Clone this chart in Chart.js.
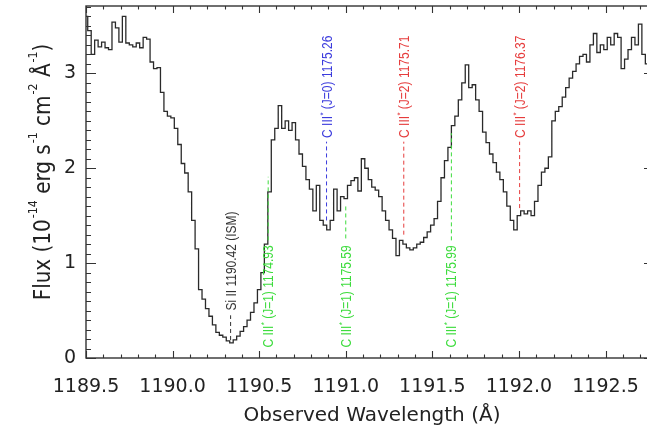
<!DOCTYPE html>
<html><head><meta charset="utf-8">
<script src="https://cdn.jsdelivr.net/npm/chart.js@4.4.0/dist/chart.umd.min.js"></script>
<style>html,body{margin:0;padding:0;overflow:hidden;background:#fff}#wrap{position:relative;width:662px;height:426px}</style>
</head><body><div id="wrap"><canvas id="c" width="662" height="426"></canvas></div>
<script>
// ---- data ----
const waveStart = 1189.50;   // first bin centre (Å)
const waveStep = 0.02;       // bin width (Å)
const flux = [
  3.6, 3.45, 3.2, 3.35, 3.28, 3.33, 3.27, 3.25, 3.54, 3.48,
  3.33, 3.6, 3.32, 3.3, 3.28, 3.32, 3.27, 3.38, 3.36, 3.12,
  3.05, 3.06, 2.8, 2.6, 2.55, 2.53, 2.42, 2.25, 2.05, 1.95,
  1.75, 1.45, 1.15, 0.72, 0.62, 0.52, 0.44, 0.35, 0.27, 0.24,
  0.22, 0.18, 0.16, 0.19, 0.23, 0.28, 0.33, 0.4, 0.48, 0.58,
  0.72, 0.9, 1.2, 1.75, 2.3, 2.42, 2.66, 2.42, 2.5, 2.4,
  2.48, 2.3, 2.15, 2.02, 1.88, 1.78, 1.55, 1.82, 1.45, 1.4,
  1.35, 1.45, 1.78, 1.55, 1.7, 1.68, 1.82, 1.87, 1.9, 1.76,
  2.1, 2.0, 1.88, 1.8, 1.77, 1.7, 1.55, 1.45, 1.35, 1.26,
  1.08, 1.24, 1.2, 1.16, 1.14, 1.16, 1.2, 1.22, 1.27, 1.33,
  1.4, 1.47, 1.65, 1.9, 2.08, 2.22, 2.45, 2.55, 2.72, 2.9,
  3.09, 2.85, 2.88, 2.72, 2.6, 2.38, 2.27, 2.15, 2.06, 1.96,
  1.88, 1.75, 1.6, 1.45, 1.35, 1.5, 1.55, 1.52, 1.55, 1.5,
  1.65, 1.82, 1.96, 2.0, 2.12, 2.5, 2.6, 2.65, 2.75, 2.85,
  2.95, 3.02, 3.1, 3.18, 3.2, 3.12, 3.3, 3.42, 3.22, 3.3,
  3.25, 3.38, 3.3, 3.42, 3.38, 3.05, 3.15, 3.25, 3.38, 3.3,
  3.52, 3.2, 3.1, 3.15, 3.2
];
const wavelength = flux.map((_, i) => +(waveStart + waveStep * i).toFixed(2));

const xTickValues = [1189.5, 1190.0, 1190.5, 1191.0, 1191.5, 1192.0, 1192.5];
const xTickLabels = ['1189.5', '1190.0', '1190.5', '1191.0', '1191.5', '1192.0', '1192.5'];
const yTickValues = [0, 1, 2, 3];
const yTickLabels = ['0', '1', '2', '3'];

// line identifications
const lineWave   = [1190.335, 1190.552, 1190.889, 1191.0, 1191.335, 1191.61, 1192.004];
const lineMain   = ['Si II 1190.42 (ISM)', 'C III', 'C III', 'C III', 'C III', 'C III', 'C III'];
const lineSup    = ['', '*', '*', '*', '*', '*', '*'];
const lineRest   = ['', ' (J=1) 1174.93', ' (J=0) 1175.26', ' (J=1) 1175.59', ' (J=2) 1175.71', ' (J=1) 1175.99', ' (J=2) 1176.37'];
const lineDashLo = [0.19, 1.24, 1.45, 1.26, 1.30, 1.24, 1.58];
const lineDashHi = [0.45, 1.91, 2.28, 1.61, 2.28, 2.37, 2.28];
const lineTextAt = [0.50, 0.11, 2.32, 0.11, 2.32, 0.11, 2.32];

// ---- styles ----
const lineColors = ['#333333', '#3ddc3d', '#3b3bdd', '#3ddc3d', '#e63c3c', '#3ddc3d', '#e63c3c'];
const AX = '#333333';
const FONT = "'DejaVu Sans', sans-serif";
const AFONT = "'Liberation Sans', Arial, sans-serif";

const idlPlugin = {
  id: 'idl',
  afterDraw(chart) {
    const ctx = chart.ctx, a = chart.chartArea;
    const xs = chart.scales.x, ys = chart.scales.y;
    ctx.save();
    // box
    ctx.strokeStyle = AX; ctx.lineWidth = 1.4; ctx.setLineDash([]);
    ctx.strokeRect(a.left, a.top, a.right - a.left, a.bottom - a.top);
    // x ticks
    ctx.lineWidth = 1.1;
    for (let k = 0; k <= 33; k++) {
      const v = 1189.5 + k * 0.1;
      if (v > xs.max + 1e-9) break;
      const major = k % 5 === 0;
      const L = major ? 7 : 3.5;
      const px = Math.round(xs.getPixelForValue(v)) + 0.5;
      ctx.beginPath();
      ctx.moveTo(px, a.bottom); ctx.lineTo(px, a.bottom - L);
      ctx.moveTo(px, a.top); ctx.lineTo(px, a.top + L);
      ctx.stroke();
    }
    // y ticks
    for (let k = 0; k <= 37; k++) {
      const v = k * 0.1;
      if (v > ys.max + 1e-9) break;
      const major = k % 10 === 0;
      const L = major ? 10 : 5;
      const py = Math.round(ys.getPixelForValue(v)) + 0.5;
      ctx.beginPath();
      ctx.moveTo(a.left, py); ctx.lineTo(a.left + L, py);
      ctx.moveTo(a.right, py); ctx.lineTo(a.right - L, py);
      ctx.stroke();
    }
    // line identifications
    for (let i = 0; i < lineWave.length; i++) {
      const px = xs.getPixelForValue(lineWave[i]);
      ctx.strokeStyle = lineColors[i]; ctx.fillStyle = lineColors[i];
      ctx.lineWidth = 1; ctx.setLineDash([4, 3]);
      ctx.beginPath();
      ctx.moveTo(px, ys.getPixelForValue(lineDashLo[i]));
      ctx.lineTo(px, ys.getPixelForValue(lineDashHi[i]));
      ctx.stroke();
      ctx.setLineDash([]);
      ctx.save();
      ctx.translate(px + 5, ys.getPixelForValue(lineTextAt[i]));
      ctx.rotate(-Math.PI / 2);
      ctx.scale(1, 1.2);
      ctx.textBaseline = 'alphabetic'; ctx.textAlign = 'left';
      ctx.font = '12px ' + AFONT;
      let tx = 0;
      ctx.fillText(lineMain[i], tx, 0); tx += ctx.measureText(lineMain[i]).width;
      if (lineSup[i]) {
        ctx.font = '8px ' + AFONT;
        ctx.fillText(lineSup[i], tx + 0.3, -5); tx += ctx.measureText(lineSup[i]).width + 0.3;
        ctx.font = '12px ' + AFONT;
        ctx.fillText(lineRest[i], tx, 0);
      }
      ctx.restore();
    }
    // x title
    ctx.fillStyle = '#222';
    ctx.font = '20px ' + FONT;
    ctx.textAlign = 'center'; ctx.textBaseline = 'alphabetic';
    ctx.fillText('Observed Wavelength (Å)', (a.left + a.right) / 2 + 2, 421);
    // y title with superscripts
    const segs = [['Flux (10', 0], ['-14', 1], [' erg s', 0], ['-1', 1], [' cm', 0], ['-2', 1], [' Å', 0], ['-1', 1], [')', 0]];
    const fN = '20px ' + FONT, fS = '11px ' + FONT;
    let total = 0;
    for (const [t, s] of segs) { ctx.font = s ? fS : fN; total += ctx.measureText(t).width; }
    ctx.save();
    ctx.translate(50, 174);
    ctx.rotate(-Math.PI / 2);
    ctx.scale(1, 1.15);
    ctx.textAlign = 'left';
    let x = -total / 2;
    for (const [t, s] of segs) {
      ctx.font = s ? fS : fN;
      ctx.fillText(t, x + (s ? 1 : 0), s ? -11 : 0);
      x += ctx.measureText(t).width + (s ? 1 : 0);
    }
    ctx.restore();
    ctx.restore();
  }
};

const noPad = s => { s.paddingTop = 0; s.paddingBottom = 0; s.paddingLeft = 0; s.paddingRight = 0; };

new Chart(document.getElementById('c'), {
  type: 'line',
  data: {
    datasets: [{
      data: wavelength.map((w, i) => ({ x: w, y: flux[i] })),
      borderColor: '#2a2a2a', borderWidth: 1.3, pointRadius: 0,
      stepped: 'middle', fill: false
    }]
  },
  options: {
    responsive: false, animation: false, devicePixelRatio: 1,
    layout: { padding: { left: 0, top: 6, right: 8, bottom: 0 } },
    plugins: { legend: { display: false }, tooltip: { enabled: false } },
    scales: {
      x: {
        type: 'linear', min: 1189.5, max: 1192.78,
        grid: { display: false, drawTicks: false }, border: { display: false },
        afterBuildTicks: s => { s.ticks = xTickValues.map(v => ({ value: v })); },
        afterFit: s => { s.height = 68; noPad(s); },
        ticks: {
          autoSkip: false, maxRotation: 0, padding: 18, color: '#222',
          font: { family: FONT, size: 19 },
          callback: (v) => { const k = xTickValues.indexOf(v); return k >= 0 ? xTickLabels[k] : ''; }
        }
      },
      y: {
        min: 0, max: 3.71,
        grid: { display: false, drawTicks: false }, border: { display: false },
        afterBuildTicks: s => { s.ticks = yTickValues.map(v => ({ value: v })); },
        afterFit: s => { s.width = 86; noPad(s); },
        ticks: {
          autoSkip: false, padding: 10, color: '#222',
          font: { family: FONT, size: 19 },
          callback: (v) => { const k = yTickValues.indexOf(v); return k >= 0 ? yTickLabels[k] : ''; }
        }
      }
    }
  },
  plugins: [idlPlugin]
});
</script>
</body></html>
